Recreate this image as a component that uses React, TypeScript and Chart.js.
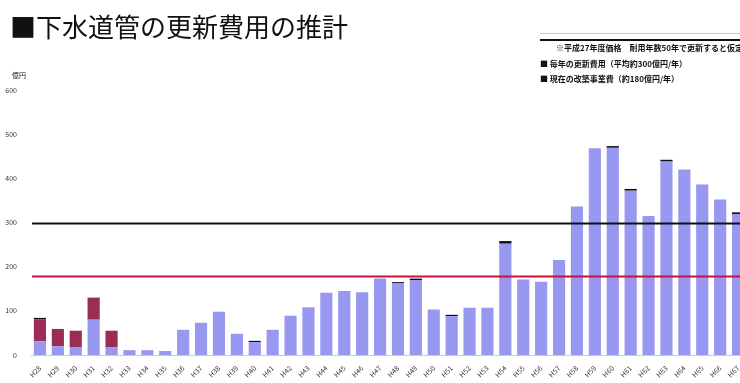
import { useEffect, useRef } from "react";
import { Chart, registerables } from "chart.js";

Chart.register(...registerables);

// 年度（平成）
const fiscalYears = [
  "H28", "H29", "H30", "H31", "H32", "H33", "H34", "H35", "H36", "H37",
  "H38", "H39", "H40", "H41", "H42", "H43", "H44", "H45", "H46", "H47",
  "H48", "H49", "H50", "H51", "H52", "H53", "H54", "H55", "H56", "H57",
  "H58", "H59", "H60", "H61", "H62", "H63", "H64", "H65", "H66", "H67",
];

// 更新費用（億円）
const renewalCost = [
  31, 20, 18, 80, 18, 11, 11, 9, 57, 73,
  98, 48, 29, 57, 89, 108, 141, 145, 142, 173,
  162, 169, 103, 88, 107, 107, 252, 171, 166, 215,
  336, 468, 469, 372, 315, 438, 420, 386, 352, 319,
];

// 更新が遅れている分（億円）
const backlogCost = [
  50, 39, 37, 50, 37, 0, 0, 0, 0, 0,
  0, 0, 0, 0, 0, 0, 0, 0, 0, 0,
  0, 0, 0, 0, 0, 0, 0, 0, 0, 0,
  0, 0, 0, 0, 0, 0, 0, 0, 0, 0,
];

// 付帯工事費（億円）
const extraCost = [
  3, 0, 0, 0, 0, 0, 0, 0, 0, 0,
  0, 0, 3, 0, 0, 0, 0, 0, 0, 0,
  3, 4, 0, 3, 0, 0, 6, 0, 0, 0,
  0, 0, 4, 4, 0, 4, 0, 0, 0, 4,
];

const yTickValues = [0, 100, 200, 300, 400, 500, 600];
const averageRenewal = 300; // 年平均更新費用
const currentBudget = 180; // 現在の改築事業費

const titleText = "■下水道管の更新費用の推計";
const unitText = "億円";
const noteLines = [
  "※平成27年度価格　耐用年数50年で更新すると仮定",
  "■ 毎年の更新費用（平均約300億円/年）",
  "■ 現在の改築事業費（約180億円/年）",
];

const FONT = "'Noto Sans CJK JP', 'Noto Sans', sans-serif";

const overlayPlugin = {
  id: "overlayTexts",
  afterDatasetsDraw(chart: any) {
    const { ctx, chartArea, scales } = chart;
    const y = scales.y;
    ctx.save();

    // 基準線
    const lines = [
      { value: averageRenewal, color: "#111111" },
      { value: currentBudget, color: "#c8103c" },
    ];
    lines.forEach((l) => {
      const py = Math.round(y.getPixelForValue(l.value)) + 0.5;
      ctx.strokeStyle = l.color;
      ctx.lineWidth = 2;
      ctx.beginPath();
      ctx.moveTo(chartArea.left + 1, py);
      ctx.lineTo(chartArea.right, py);
      ctx.stroke();
    });

    // タイトル
    ctx.fillStyle = "#111111";
    ctx.textAlign = "left";
    ctx.textBaseline = "alphabetic";
    ctx.font = `26px ${FONT}`;
    ctx.fillText(titleText, 10, 37);

    // 単位
    ctx.font = `7px ${FONT}`;
    ctx.fillText(unitText, 12, 78);

    // 注記
    ctx.strokeStyle = "#cccccc";
    ctx.lineWidth = 1;
    ctx.beginPath();
    ctx.moveTo(540, 33.5);
    ctx.lineTo(760, 33.5);
    ctx.stroke();
    ctx.strokeStyle = "#111111";
    ctx.lineWidth = 2;
    ctx.beginPath();
    ctx.moveTo(540, 40);
    ctx.lineTo(760, 40);
    ctx.stroke();

    ctx.font = `bold 8px ${FONT}`;
    ctx.fillText(noteLines[0], 556, 51);
    ctx.fillText(noteLines[1], 540, 67);
    ctx.fillText(noteLines[2], 540, 82);

    ctx.restore();
  },
};

export default function App() {
  const canvasRef = useRef<HTMLCanvasElement | null>(null);

  useEffect(() => {
    if (!canvasRef.current) return;
    const chart = new Chart(canvasRef.current, {
      type: "bar",
      data: {
        labels: fiscalYears,
        datasets: [
          {
            label: "更新費用",
            data: renewalCost,
            backgroundColor: "#9898f0",
            stack: "s",
          },
          {
            label: "更新遅延分",
            data: backlogCost,
            backgroundColor: "#9a2c55",
            stack: "s",
          },
          {
            label: "付帯工事費",
            data: extraCost,
            backgroundColor: "#111111",
            stack: "s",
          },
        ],
      },
      options: {
        responsive: false,
        animation: false,
        devicePixelRatio: 1,
        layout: { padding: { top: 90, left: 0, right: 0, bottom: 0 } },
        datasets: {
          bar: { categoryPercentage: 1, barPercentage: 0.68 },
        },
        plugins: {
          legend: { display: false },
          title: { display: false },
          tooltip: { enabled: false },
        },
        scales: {
          x: {
            stacked: true,
            grid: { display: false },
            border: { display: true, color: "#c8c8d8" },
            ticks: {
              autoSkip: false,
              minRotation: 45,
              maxRotation: 45,
              color: "#333333",
              font: { size: 7, family: FONT },
              padding: 1,
            },
            afterFit(scale: any) {
              scale.height = 28;
            },
          },
          y: {
            stacked: true,
            min: 0,
            max: 600,
            grid: { display: false },
            border: { display: false },
            afterBuildTicks(scale: any) {
              scale.ticks = yTickValues.map((v) => ({ value: v }));
            },
            ticks: {
              color: "#333333",
              font: { size: 7, family: FONT },
              padding: 6,
            },
            afterFit(scale: any) {
              scale.width = 31;
            },
          },
        },
      },
      plugins: [overlayPlugin],
    });
    return () => chart.destroy();
  }, []);

  return (
    <div
      style={{
        position: "absolute",
        left: 0,
        top: 0,
        width: 740,
        height: 383,
        overflow: "hidden",
        background: "#ffffff",
      }}
    >
      <canvas ref={canvasRef} width={747} height={383} style={{ display: "block" }} />
    </div>
  );
}
